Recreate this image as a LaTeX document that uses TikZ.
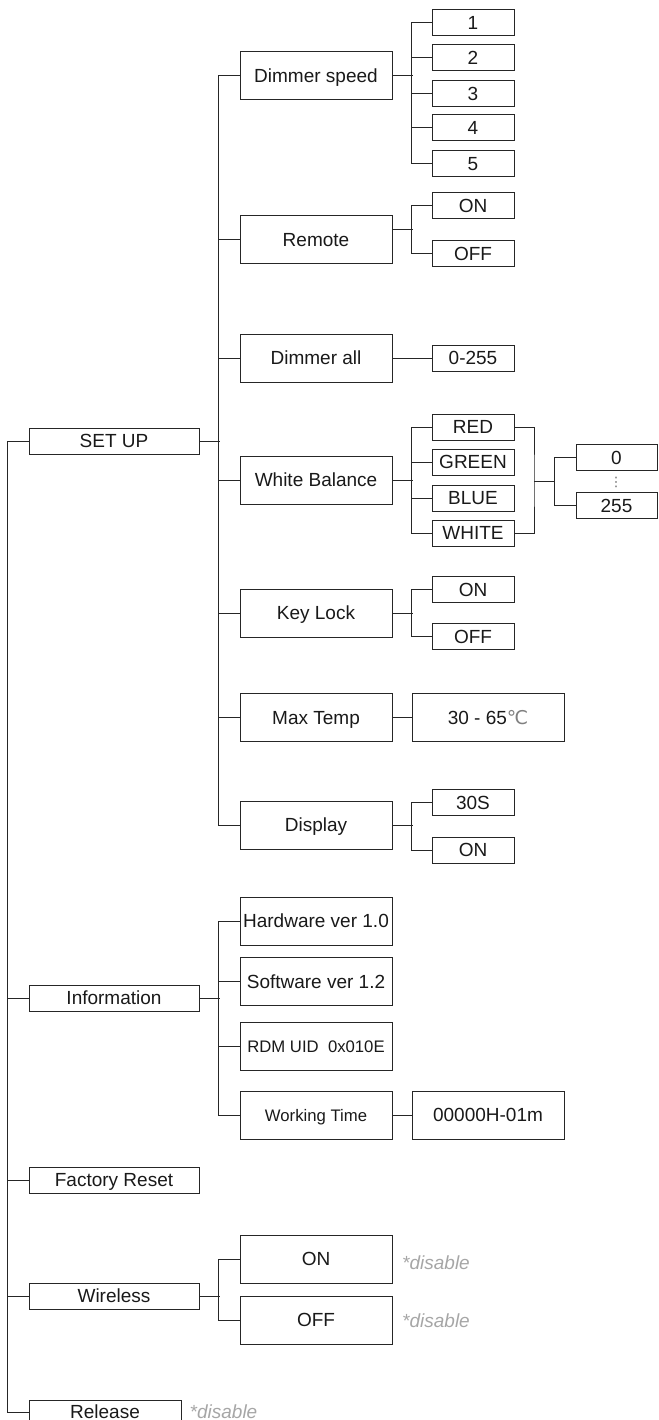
\documentclass[tikz,border=0pt]{standalone}
\usepackage{fontspec}
\setmainfont{Liberation Sans}
\newfontfamily\degfont{DejaVu Sans}
\usepackage{xcolor}
\usepackage{tikz}
\usetikzlibrary{positioning}

\begin{document}
\begin{tikzpicture}[x=1pt, y=-1pt,
    font=\fontsize{19}{22}\selectfont,
    menu/.style={rectangle, draw=black!85, line width=1pt, inner sep=0pt, minimum width=170pt, minimum height=26pt, text=black!90, text height=13.6pt, text depth=0pt},
    item/.style={rectangle, draw=black!85, line width=1pt, inner sep=0pt, minimum width=152pt, minimum height=48pt, text=black!90, text height=13.6pt, text depth=0pt},
    opt/.style={rectangle, draw=black!85, line width=1pt, inner sep=0pt, minimum width=82pt, minimum height=26pt, text=black!90, text height=13.6pt, text depth=0pt},
    smalltext/.style={font=\fontsize{16.7}{20}\selectfont, text height=12pt},
    note/.style={text=black!35, inner sep=0pt, font=\fontsize{19}{22}\selectfont\itshape},
    link/.style={draw, line width=1pt, color=black!85}
]
    \useasboundingbox (0,0) rectangle (658,1420);

    % Main menu
    \node[menu] (setup) at (114,441) {SET UP};
    \node[menu] (info) at (114,998) {Information};
    \node[menu] (reset) at (114,1180) {Factory Reset};
    \node[menu] (wireless) at (114,1296) {Wireless};
    \node[menu, minimum width=152pt, minimum height=24pt] (release) at (105,1412) {Release};
    \node[note, right=8pt of release] (relnote) {*disable};

    % SET UP entries
    \node[item] (dspeed) at (316,76) {Dimmer speed};
    \node[item] (remote) at (316,239.5) {Remote};
    \node[item] (dimall) at (316,358) {Dimmer all};
    \node[item] (wbal) at (316,480) {White Balance};
    \node[item] (keylock) at (316,613) {Key Lock};
    \node[item] (maxtemp) at (316,717.5) {Max Temp};
    \node[item] (display) at (316,825) {Display};

    % Information entries
    \node[item] (hwver) at (316,921) {Hardware ver 1.0};
    \node[item] (swver) at (316,981.5) {Software ver 1.2};
    \node[item, smalltext] (rdmuid) at (316,1046) {RDM UID\ \ 0x010E};
    \node[item, smalltext] (wtime) at (316,1115) {Working Time};

    % Wireless entries
    \node[item] (wlon) at (316,1259) {ON};
    \node[item] (wloff) at (316,1320) {OFF};
    \node[note, right=9.5pt of wlon, yshift=-3.5pt] (wlonnote) {*disable};
    \node[note, right=9.5pt of wloff, yshift=-0.5pt] (wloffnote) {*disable};

    % Values
    \node[opt] (sp1) at (473,22.5) {1};
    \node[opt] (sp2) at (473,58) {2};
    \node[opt] (sp3) at (473,94) {3};
    \node[opt] (sp4) at (473,128) {4};
    \node[opt] (sp5) at (473,164) {5};
    \node[opt] (remon) at (473,206) {ON};
    \node[opt] (remoff) at (473,254) {OFF};
    \node[opt] (dimval) at (473,358) {0-255};
    \node[opt] (red) at (473,427) {RED};
    \node[opt] (green) at (473,462) {GREEN};
    \node[opt] (blue) at (473,498) {BLUE};
    \node[opt] (white) at (473,533) {WHITE};
    \node[opt] (klon) at (473,589.5) {ON};
    \node[opt] (kloff) at (473,636.5) {OFF};
    \node[opt] (dis30) at (473,802.5) {30S};
    \node[opt] (dison) at (473,850) {ON};
    \node[item] (tempval) at (488,717.5) {30 - 65{\degfont\color{black!50}℃}};
    \node[item] (timeval) at (488,1115) {00000H-01m};
    \node[opt, minimum width=81pt] (wb0) at (616.5,457.5) {0};
    \node[opt, minimum width=81pt] (wb255) at (616.5,505.5) {255};
    \node[text=black!60, font=\degfont\fontsize{13}{13}\selectfont, inner sep=0pt] (wbdots) at (616,482) {⋮};

    % Main menu lines
    \path [link] (setup.west) -- ++(-20.7,0) |- (release.west);
    \path [link] (info.west) -- ++(-20.7,0);
    \path [link] (reset.west) -- ++(-20.7,0);
    \path [link] (wireless.west) -- ++(-20.7,0);

    % SET UP lines
    \path [link] (setup.east) -- ++(20.3,0);
    \path [link] (dspeed.west) -- ++(-20.7,0) |- (display.west);
    \path [link] (remote.west) -- ++(-20.7,0);
    \path [link] (dimall.west) -- ++(-20.7,0);
    \path [link] (wbal.west) -- ++(-20.7,0);
    \path [link] (keylock.west) -- ++(-20.7,0);
    \path [link] (maxtemp.west) -- ++(-20.7,0);

    % Information lines
    \path [link] (info.east) -- ++(20.3,0);
    \path [link] (hwver.west) -- ++(-20.7,0) |- (wtime.west);
    \path [link] (swver.west) -- ++(-20.7,0);
    \path [link] (rdmuid.west) -- ++(-20.7,0);
    \path [link] (wtime.east) -- (timeval.west);

    % Wireless lines
    \path [link] (wireless.east) -- ++(20.3,0);
    \path [link] (wlon.west) -- ++(-20.7,0) |- (wloff.west);

    % Dimmer speed, Remote, Dimmer all
    \path [link] (dspeed.east) -- ++(20,0);
    \path [link] (sp1.west) -- ++(-20,0) |- (sp5.west);
    \path [link] (sp2.west) -- ++(-20,0);
    \path [link] (sp3.west) -- ++(-20,0);
    \path [link] (sp4.west) -- ++(-20,0);
    \path [link] ([yshift=10pt]remote.east) -- ++(20,0);
    \path [link] (remon.west) -- ++(-20,0) |- (remoff.west);
    \path [link] (dimall.east) -- (dimval.west);

    % White Balance
    \coordinate (wbjoin) at (534,481);
    \path [link] (wbal.east) -- ++(20,0);
    \path [link] (red.west) -- ++(-20,0) |- (white.west);
    \path [link] (green.west) -- ++(-20,0);
    \path [link] (blue.west) -- ++(-20,0);
    \path [link] (red.east) -| (wbjoin) |- (white.east);
    \path [link] (wbjoin) -- ++(21,0);
    \path [link] (wb0.west) -- ++(-21,0) |- (wb255.west);

    % Key Lock, Max Temp, Display
    \path [link] (keylock.east) -- ++(20,0);
    \path [link] (klon.west) -- ++(-20,0) |- (kloff.west);
    \path [link] (maxtemp.east) -- (tempval.west);
    \path [link] (display.east) -- ++(20,0);
    \path [link] (dis30.west) -- ++(-20,0) |- (dison.west);
\end{tikzpicture}
\end{document}
